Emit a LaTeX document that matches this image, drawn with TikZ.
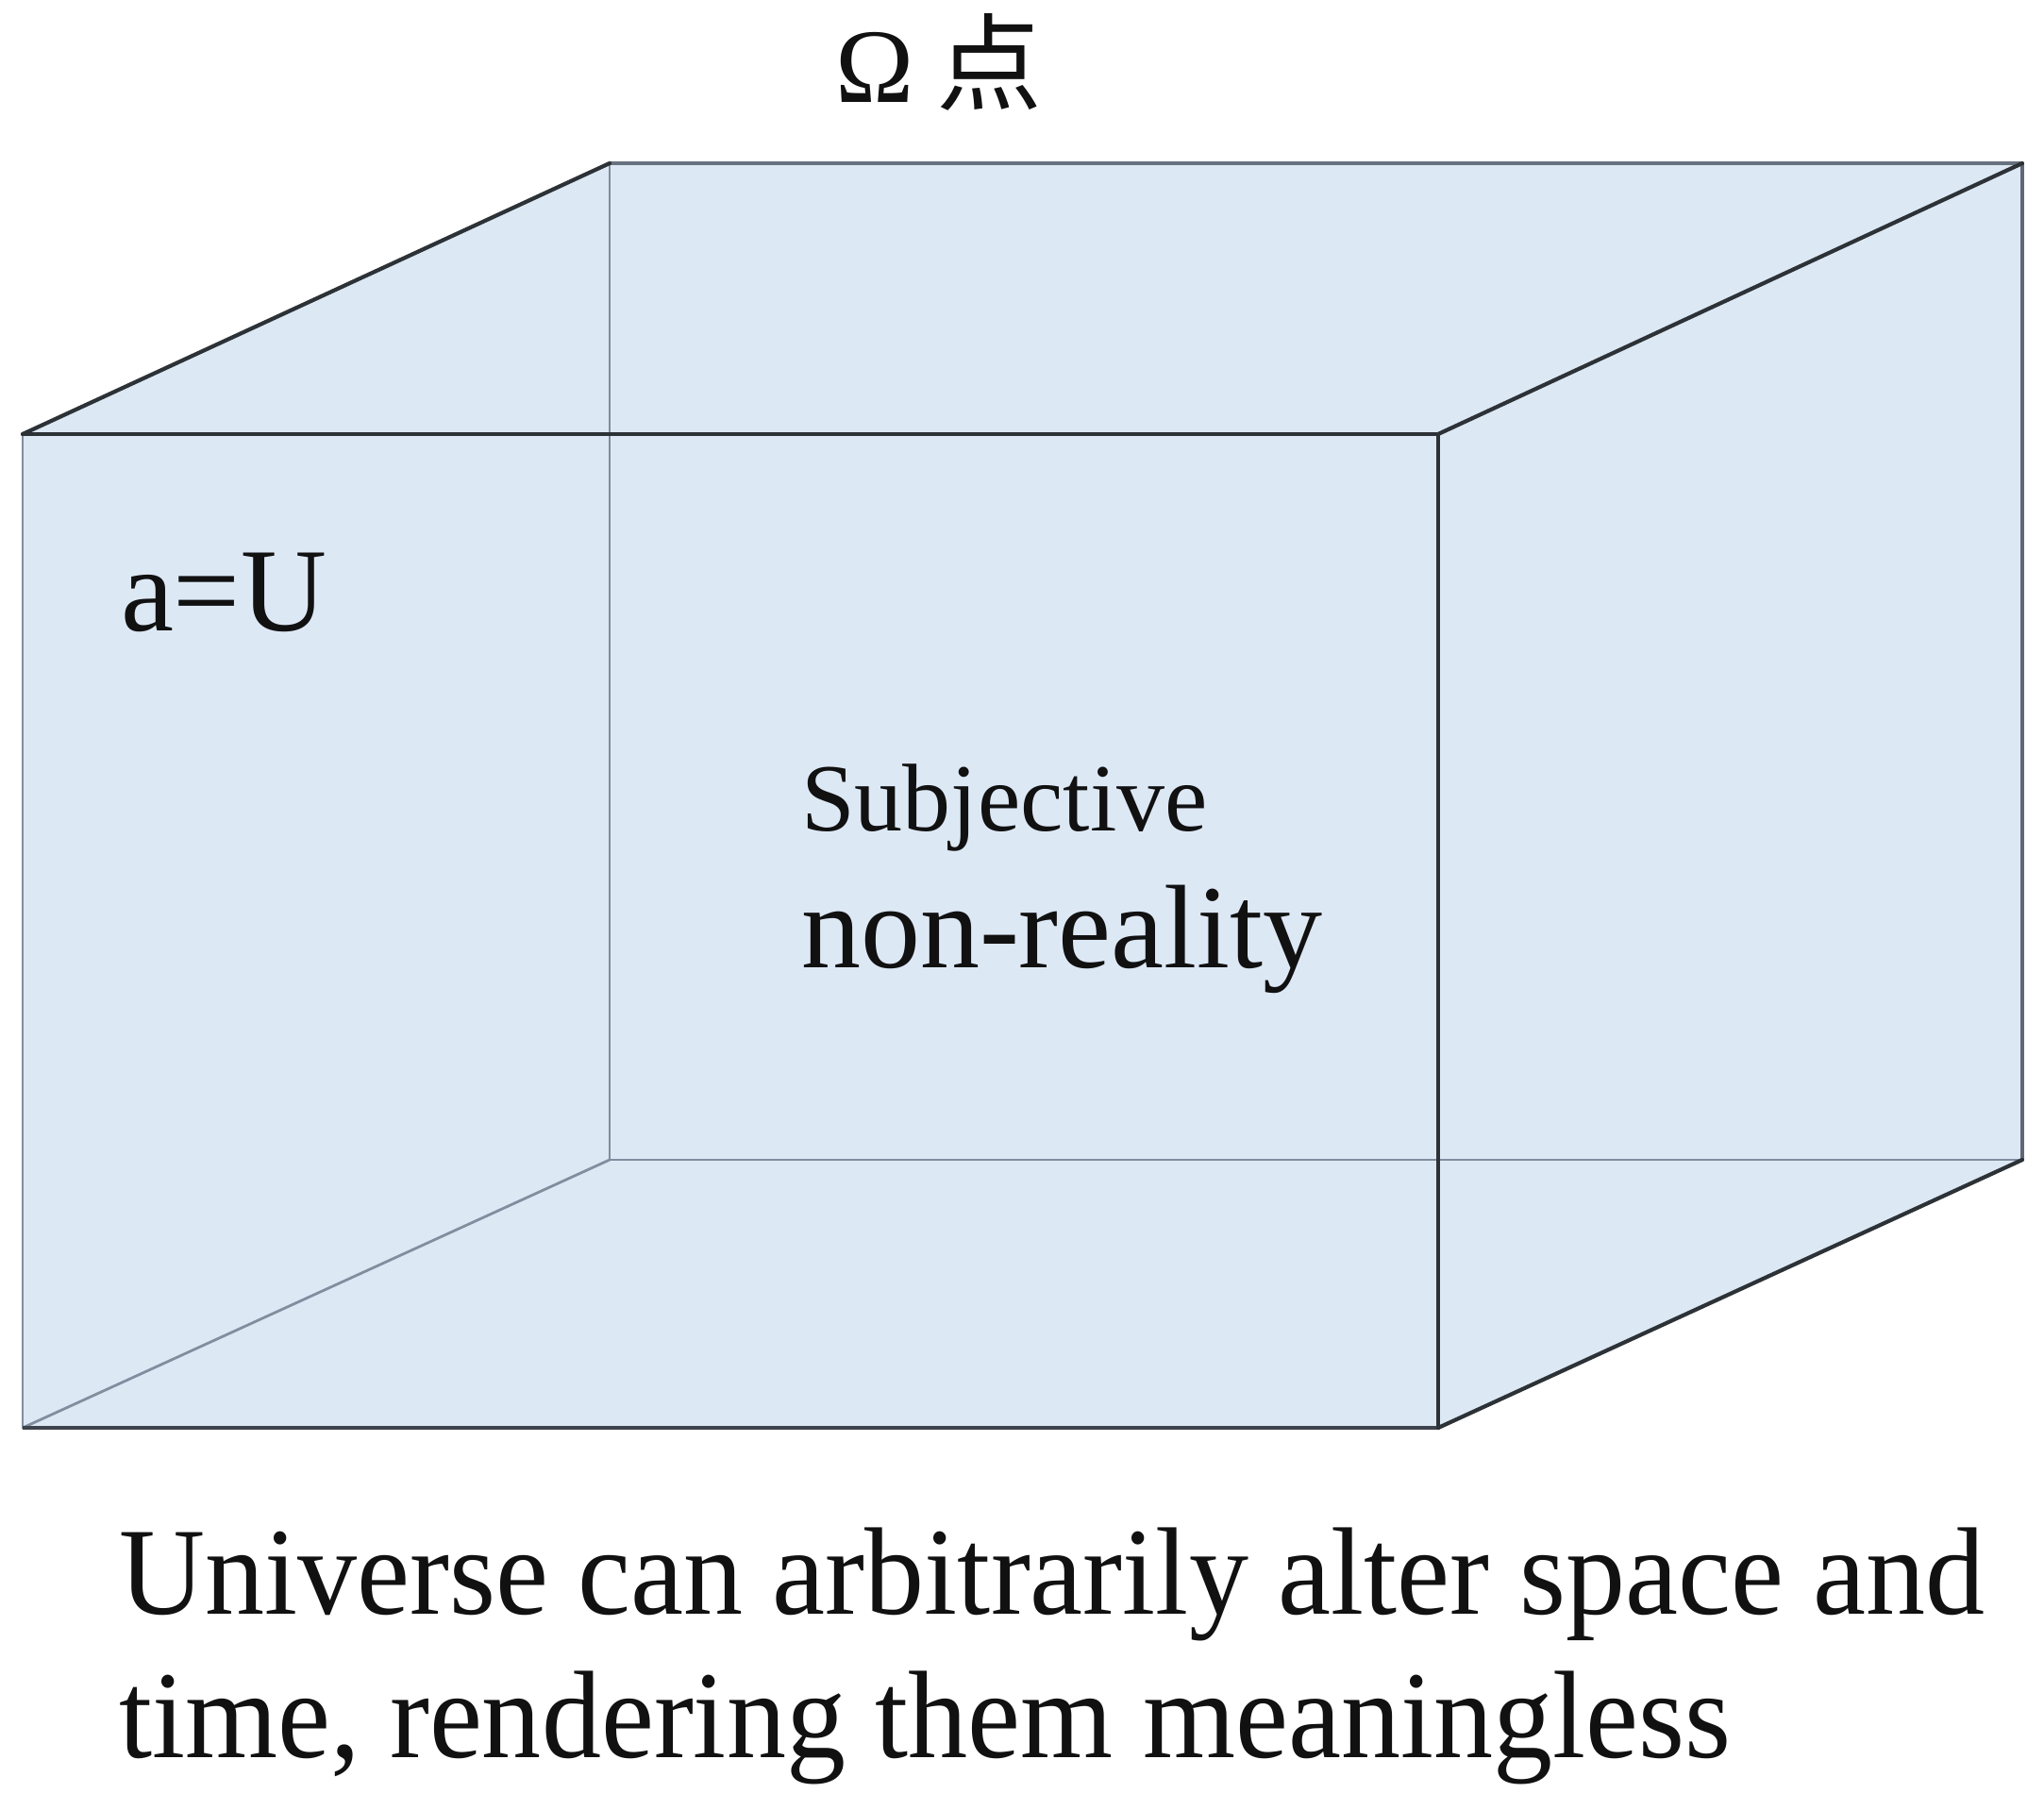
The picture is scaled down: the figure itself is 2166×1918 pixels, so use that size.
\documentclass[tikz,border=0pt]{standalone}
\usepackage{fontspec}
\setmainfont{Liberation Serif}
\newfontfamily\capfont{Liberation Serif}[FakeStretch=0.955]
\newfontfamily\cjk{Noto Sans CJK SC}
\definecolor{cubefill}{RGB}{221,232,245}
\definecolor{darkedge}{RGB}{45,50,55}
\definecolor{lightedge}{RGB}{128,142,158}
\definecolor{txt}{RGB}{17,17,17}
\begin{document}
\begin{tikzpicture}[x=0.25pt,y=-0.25pt,
  outer/.style={draw=darkedge,line width=1.05pt,line cap=round,line join=round},
  inner/.style={draw=lightedge,line width=0.7pt,line cap=round},
  lbl/.style={inner sep=0pt,outer sep=0pt,anchor=base west,text=txt}]
\useasboundingbox (0,0) rectangle (2166,1918);
% corners: front face
\coordinate (FTL) at (24,460);
\coordinate (FTR) at (1524,460);
\coordinate (FBR) at (1524,1513);
\coordinate (FBL) at (24,1513);
% back face
\coordinate (BTL) at (646,173);
\coordinate (BTR) at (2143,173);
\coordinate (BBR) at (2143,1229);
\coordinate (BBL) at (646,1229);
% fill silhouette
\fill[cubefill] (FTL) -- (BTL) -- (BTR) -- (BBR) -- (FBR) -- (FBL) -- cycle;
% hidden / inner edges
\draw[inner] (BTL) -- (BBL) -- (BBR);
\draw[inner] (BBL) -- (FBL);
\draw[inner] (FTL) -- (FBL);
\draw[draw=lightedge!70!darkedge,line width=0.8pt] (BTL) -- (BTR);
\draw[draw=lightedge!60!darkedge,line width=0.8pt] (BTR) -- (BBR);
% front face and visible edges
\draw[outer] (FTL) -- (FTR) -- (FBR);
\draw[draw=darkedge!80!lightedge,line width=0.9pt] (FBR) -- (FBL);
\draw[outer] (FTL) -- (BTL);
\draw[outer] (FTR) -- (BTR);
\draw[outer] (FBR) -- (BBR);
% labels
\node[lbl,font=\fontsize{28}{34}\selectfont] (omega) at (885,108) {Ω\hspace{6pt}{\cjk 点}};
\node[lbl,font=\fontsize{31.5}{38}\selectfont] (aU) at (128,668) {a=U};
\node[lbl,font=\fontsize{25.5}{31}\selectfont] (subj) at (849,880) {Subjective};
\node[lbl,font=\fontsize{31.5}{38}\selectfont] (nonr) at (849,1025) {non-reality};
\node[lbl,font=\capfont\fontsize{33}{38}\selectfont] (cap1) at (126,1710) {Universe can arbitrarily alter space and};
\node[lbl,font=\capfont\fontsize{33}{38}\selectfont] (cap2) at (126,1862) {time, rendering them meaningless};
\end{tikzpicture}
\end{document}
